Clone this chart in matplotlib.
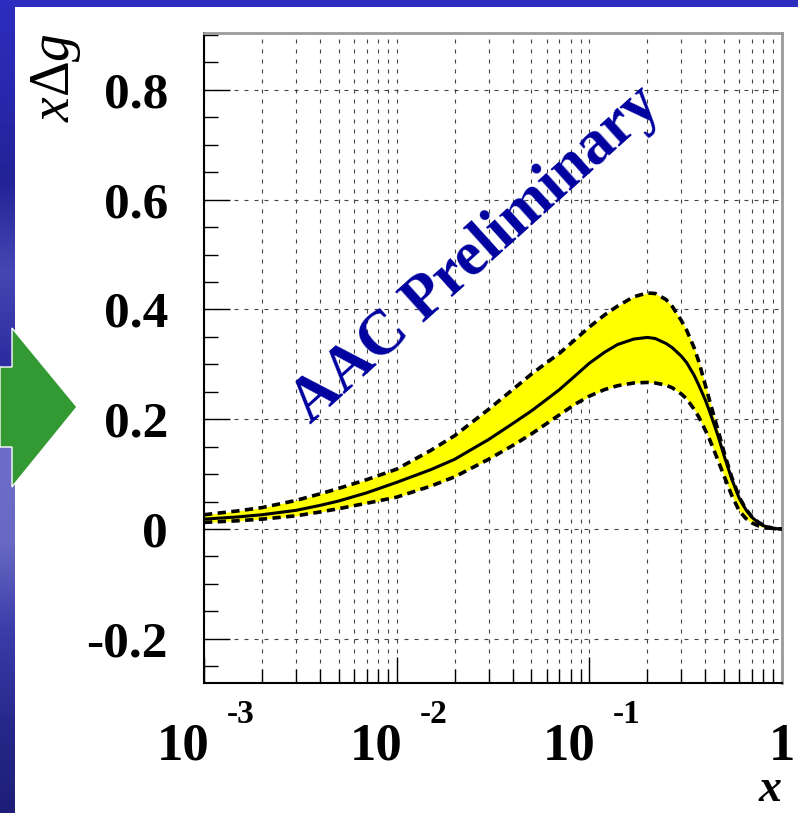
import numpy as np
import matplotlib.pyplot as plt
from matplotlib.patches import Polygon, Rectangle
from matplotlib import ticker

plt.rcParams['font.family'] = ['Liberation Serif', 'DejaVu Serif']
plt.rcParams['mathtext.fontset'] = 'custom'
plt.rcParams['mathtext.rm'] = 'Liberation Serif'
plt.rcParams['mathtext.it'] = 'Liberation Serif:italic'
plt.rcParams['mathtext.bf'] = 'Liberation Serif:bold'

# x Delta g from the AAC fit
x = [0.001, 0.0015, 0.002, 0.003, 0.004, 0.005, 0.007, 0.01, 0.015, 0.02,
     0.03, 0.04, 0.05, 0.06, 0.07, 0.085, 0.1, 0.12, 0.14, 0.17, 0.2, 0.22,
     0.25, 0.27, 0.3, 0.32, 0.35, 0.37, 0.4, 0.42, 0.45, 0.47, 0.5, 0.55,
     0.6, 0.65, 0.7, 0.75, 0.8, 0.9, 1.0]
central = [0.018, 0.022, 0.026, 0.034, 0.043, 0.051, 0.066, 0.085, 0.108,
           0.127, 0.163, 0.192, 0.215, 0.236, 0.254, 0.280, 0.302, 0.322,
           0.336, 0.346, 0.349, 0.347, 0.338, 0.330, 0.315, 0.303, 0.280,
           0.262, 0.235, 0.215, 0.185, 0.165, 0.134, 0.090, 0.056, 0.035,
           0.021, 0.012, 0.006, 0.001, 0.0]
upper = [0.026, 0.033, 0.039, 0.052, 0.064, 0.074, 0.090, 0.109, 0.143,
         0.170, 0.218, 0.254, 0.282, 0.303, 0.320, 0.346, 0.368, 0.390,
         0.406, 0.423, 0.430, 0.429, 0.418, 0.405, 0.380, 0.362, 0.330,
         0.305, 0.262, 0.235, 0.198, 0.175, 0.140, 0.093, 0.058, 0.036,
         0.022, 0.013, 0.007, 0.001, 0.0]
lower = [0.012, 0.015, 0.018, 0.024, 0.031, 0.037, 0.047, 0.058, 0.078,
         0.095, 0.127, 0.152, 0.173, 0.192, 0.208, 0.228, 0.242, 0.254,
         0.261, 0.266, 0.267, 0.266, 0.262, 0.257, 0.246, 0.237, 0.218,
         0.204, 0.180, 0.164, 0.138, 0.121, 0.097, 0.060, 0.033, 0.019,
         0.011, 0.006, 0.003, 0.001, 0.0]

yticks = [-0.2, 0, 0.2, 0.4, 0.6, 0.8]
ytick_labels = ['-0.2', '0', '0.2', '0.4', '0.6', '0.8']
xticks = [1e-3, 1e-2, 1e-1, 1.0]
xtick_base = ['10', '10', '10', '1']
xtick_exp = ['-3', '-2', '-1', '']

W, H = 798, 813
fig = plt.figure(figsize=(W / 100, H / 100), dpi=100)

# slide background: blue strips on top and left, green arrow
bg = fig.add_axes([0, 0, 1, 1])
bg.set_xlim(0, 1)
bg.set_ylim(0, 1)
bg.axis('off')
stops = np.array([[45, 45, 190], [40, 40, 175], [35, 35, 150], [70, 70, 180],
                  [45, 45, 160], [110, 110, 200], [105, 105, 195],
                  [60, 60, 170], [40, 40, 140], [30, 30, 120]]) / 255
pos = np.linspace(0, 1, len(stops))
yy = np.linspace(0, 1, 200)
grad = np.stack([np.interp(yy, pos, stops[:, k]) for k in range(3)], axis=-1)
bg.imshow(grad[:, None, :], extent=[0, 15 / W, 0, 1], aspect='auto',
          origin='upper', zorder=1)
bg.add_patch(Rectangle((0, 1 - 7 / H), 1, 7 / H, color='#2d2dc0', lw=0, zorder=1))
arrow_px = [(0, 367), (12, 367), (12, 328), (77, 407), (12, 487), (12, 447), (0, 447)]
bg.add_patch(Polygon([(px / W, 1 - py / H) for px, py in arrow_px],
                     closed=True, facecolor='#339933', edgecolor='white',
                     lw=1, zorder=2))

ax = fig.add_axes([204 / W, 130 / H, 578 / W, 650 / H])
ax.set_xscale('log')

ax.fill_between(x, lower, upper, color='#ffff00', lw=0, zorder=2)
ax.plot(x, upper, color='k', lw=2.6, dashes=(2.3, 1.5), zorder=3)
ax.plot(x, lower, color='k', lw=2.6, dashes=(2.3, 1.5), zorder=3)
ax.plot(x, central, color='k', lw=2.2, zorder=4)

ax.set_xlim(1e-3, 1)
ax.set_ylim(-0.2805, 0.9035)

ax.yaxis.set_major_locator(ticker.FixedLocator(yticks))
ax.yaxis.set_major_formatter(ticker.FixedFormatter(ytick_labels))
ax.yaxis.set_minor_locator(ticker.MultipleLocator(0.05))
ax.xaxis.set_major_locator(ticker.FixedLocator(xticks))
ax.xaxis.set_minor_locator(ticker.LogLocator(base=10, subs=np.arange(2, 10)))
ax.xaxis.set_major_formatter(ticker.NullFormatter())
ax.xaxis.set_minor_formatter(ticker.NullFormatter())

ax.tick_params(which='major', direction='in', length=18.5, width=1.0,
               top=False, right=False, color='k')
ax.tick_params(which='minor', direction='in', length=10, width=1.0,
               top=False, right=False, color='k')
ax.tick_params(axis='y', which='major', pad=26, labelsize=37)
for lab in ax.get_yticklabels():
    lab.set_fontweight('bold')

gs = dict(color='#444444', lw=0.8, linestyle=(0, (3.6, 5.4)))
ax.grid(True, which='major', axis='y', **gs)
ax.grid(True, which='both', axis='x', **gs)
ax.set_axisbelow(True)

for s in ['left', 'bottom']:
    ax.spines[s].set_color('k')
    ax.spines[s].set_linewidth(1.5)
for s in ['top', 'right']:
    ax.spines[s].set_color('#9a9a9a')
    ax.spines[s].set_linewidth(2)

# ROOT style decade labels: "10" with the exponent set well above and to the right
tr = ax.get_xaxis_transform()
for t, b, e in zip(xticks, xtick_base, xtick_exp):
    if e:
        ax.annotate(b, xy=(t, 0), xycoords=tr, xytext=(4.3, -55.4),
                    textcoords='offset points', ha='right', va='baseline',
                    fontsize=38, fontweight='bold')
        ax.annotate(e, xy=(t, 0), xycoords=tr, xytext=(16.6, -28.8),
                    textcoords='offset points', ha='left', va='baseline',
                    fontsize=24, fontweight='bold')
    else:
        ax.annotate(b, xy=(t, 0), xycoords=tr, xytext=(0, -55.4),
                    textcoords='offset points', ha='center', va='baseline',
                    fontsize=38, fontweight='bold')

ax.set_xlabel('x', loc='right', fontsize=33, fontstyle='italic',
              fontweight='bold')
ax.xaxis.label.set_va('bottom')
ax.xaxis.set_label_coords(1.0, -(811 - 683) / 650)

ax.set_ylabel(r'$x\Delta g$', loc='top', fontsize=40)
ax.yaxis.set_label_coords(-(204 - 83) / 578, 1.0)

ax.text(0.0261, 0.499, 'AAC Preliminary', rotation=42, ha='center',
        va='center', fontsize=45, fontweight='bold', color='#0000a0', zorder=5)

fig.savefig('out.png', dpi=100)
